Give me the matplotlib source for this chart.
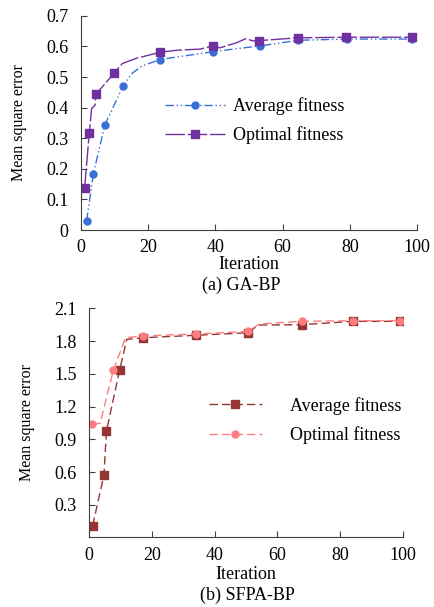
import matplotlib.pyplot as plt

plt.rcParams["font.family"] = ["Liberation Serif", "DejaVu Serif"]

# (a) GA-BP
ga_avg_x = [1.7, 3.7, 7.1, 12.6, 15.0, 18.0, 23.5, 39.4, 53.4, 64.7, 79.0, 98.5]
ga_avg_y = [0.030, 0.183, 0.343, 0.472, 0.510, 0.535, 0.557, 0.583, 0.602, 0.620, 0.624, 0.624]
ga_avg_marks = [0, 1, 2, 3, 6, 7, 8, 9, 10, 11]

ga_opt_x = [1.1, 2.5, 3.2, 4.2, 4.5, 9.9, 12.3, 16.5, 23.6, 29.0, 35.4, 39.4,
            41.3, 46.3, 49.0, 51.2, 53.1, 64.6, 78.7, 98.5]
ga_opt_y = [0.138, 0.318, 0.397, 0.408, 0.444, 0.513, 0.544, 0.561, 0.581, 0.588,
            0.591, 0.602, 0.595, 0.612, 0.625, 0.618, 0.619, 0.628, 0.630, 0.630]
ga_opt_marks = [0, 1, 4, 5, 8, 11, 16, 17, 18, 19]

# (b) SFPA-BP
sf_avg_x = [1.1, 4.7, 5.5, 9.7, 12.0, 17.3, 34.1, 50.7, 53.9, 67.7, 84.1, 99.0]
sf_avg_y = [0.108, 0.571, 0.974, 1.533, 1.816, 1.831, 1.853, 1.877, 1.947, 1.950, 1.981, 1.981]
sf_avg_marks = [0, 1, 2, 3, 5, 6, 7, 9, 10, 11]

sf_opt_x = [1.0, 3.5, 7.7, 11.6, 17.3, 34.1, 50.7, 54.2, 67.7, 84.1, 99.0]
sf_opt_y = [1.038, 1.047, 1.533, 1.831, 1.847, 1.865, 1.889, 1.957, 1.981, 1.987, 1.987]
sf_opt_marks = [0, 2, 4, 5, 6, 8, 9, 10]

fs = 13

fig = plt.figure(figsize=(4.35, 6.07), dpi=100)
ax1 = fig.add_axes([0.186, 0.621, 0.773, 0.353])
ax2 = fig.add_axes([0.205, 0.1145, 0.721, 0.3775])

ax1.plot(ga_avg_x, ga_avg_y, color="#3a6fd8", lw=1.0, dashes=[6, 2, 1, 2, 1, 2],
         marker="o", ms=5, markevery=ga_avg_marks, label="Average fitness")
ax1.plot(ga_opt_x, ga_opt_y, color="#7030a0", lw=1.0, dashes=[14, 2],
         marker="s", ms=5.5, markevery=ga_opt_marks, label="Optimal fitness")
ax1.set_xlim(0, 100)
ax1.set_ylim(0, 0.7)
ax1.set_xticks([0, 20, 40, 60, 80, 100])
ax1.set_yticks([0, 0.1, 0.2, 0.3, 0.4, 0.5, 0.6, 0.7])
ax1.set_yticklabels(["0", "0.1", "0.2", "0.3", "0.4", "0.5", "0.6", "0.7"])
ax1.legend(loc="center left", bbox_to_anchor=(0.202, 0.51), frameon=False,
           fontsize=fs, handlelength=3.3, handletextpad=0.45, labelspacing=0.6)

ax2.plot(sf_avg_x, sf_avg_y, color="#943634", lw=1.0, dashes=[6, 3],
         marker="s", ms=5.5, markevery=sf_avg_marks, label="Average fitness")
ax2.plot(sf_opt_x, sf_opt_y, color="#ff7c80", lw=1.0, dashes=[6, 3],
         marker="o", ms=5, markevery=sf_opt_marks, label="Optimal fitness")
ax2.set_xlim(0, 100)
ax2.set_ylim(0, 2.1)
ax2.set_xticks([0, 20, 40, 60, 80, 100])
ax2.set_yticks([0.3, 0.6, 0.9, 1.2, 1.5, 1.8, 2.1])
ax2.legend(loc="center left", bbox_to_anchor=(0.331, 0.51), frameon=False,
           fontsize=fs, handlelength=2.9, handletextpad=1.55, labelspacing=0.65)

for ax in (ax1, ax2):
    for s in ("top", "right"):
        ax.spines[s].set_visible(False)
    ax.spines["left"].set_color("#404040")
    ax.spines["bottom"].set_color("#404040")
    ax.tick_params(direction="in", labelsize=fs, length=4, color="#404040")
    ax.tick_params(axis="y", pad=9)
    ax.tick_params(axis="x", pad=6.5)
    ax.set_ylabel("Mean square error", fontsize=11.5, labelpad=14)

ax1.set_xlabel("Iteration", fontsize=fs, labelpad=0)
ax2.set_xlabel("Iteration", fontsize=fs, labelpad=2)

fig.text(0.555, 0.5305, "(a) GA-BP", ha="center", va="center", fontsize=13)
fig.text(0.568, 0.019, "(b) SFPA-BP", ha="center", va="center", fontsize=13)

fig.savefig("out.png", dpi=100)
